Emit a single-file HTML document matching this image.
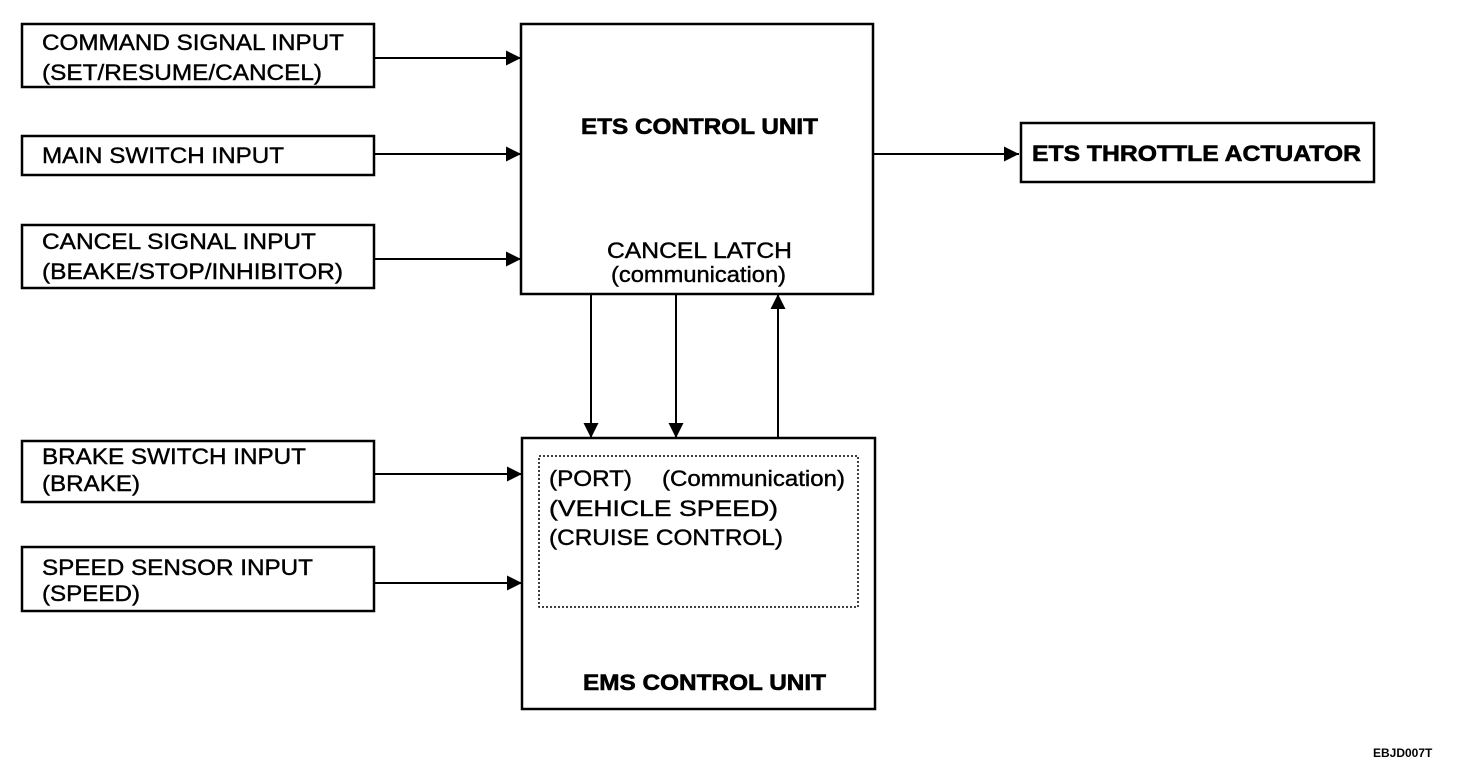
<!DOCTYPE html>
<html><head><meta charset="utf-8"><style>
html,body{margin:0;padding:0;background:#fff;}
svg{display:block;}
text{font-family:"Liberation Sans",Arial,sans-serif;font-size:22px;fill:#000;stroke:#000;stroke-width:0.4;}
.b{font-weight:bold;stroke-width:0.6;}
</style></head><body>
<svg width="1472" height="772" viewBox="0 0 1472 772" xmlns="http://www.w3.org/2000/svg">
<defs><marker id="a" viewBox="0 0 10 10" refX="10" refY="5" markerWidth="18" markerHeight="15" markerUnits="userSpaceOnUse" orient="auto"><path d="M0,0 L10,5 L0,10 Z" fill="#000"/></marker></defs>
<g fill="none" stroke="#000" stroke-width="2.5">
<rect x="22" y="24" width="352" height="63"/>
<rect x="22" y="136" width="352" height="39"/>
<rect x="22" y="225" width="352" height="63"/>
<rect x="22" y="441" width="352" height="61"/>
<rect x="22" y="547" width="352" height="64"/>
<rect x="521" y="24" width="352" height="270"/>
<rect x="1021" y="123" width="353" height="59"/>
<rect x="522" y="438" width="353" height="271"/>
</g>
<rect x="539" y="456" width="319" height="151" fill="none" stroke="#000" stroke-width="1.5" stroke-dasharray="2,2"/>
<g stroke="#000" stroke-width="2" marker-end="url(#a)">
<line x1="374" y1="58" x2="521" y2="58"/>
<line x1="374" y1="154" x2="521" y2="154"/>
<line x1="374" y1="259" x2="521" y2="259"/>
<line x1="374" y1="474" x2="522" y2="474"/>
<line x1="374" y1="583" x2="522" y2="583"/>
<line x1="873" y1="154" x2="1019" y2="154"/>
<line x1="591" y1="294" x2="591" y2="438"/>
<line x1="676" y1="294" x2="676" y2="438"/>
<line x1="778" y1="438" x2="778" y2="294"/>
</g>
<g lengthAdjust="spacingAndGlyphs">
<text x="42" y="50" textLength="302" lengthAdjust="spacingAndGlyphs">COMMAND SIGNAL INPUT</text>
<text x="42" y="80" textLength="280" lengthAdjust="spacingAndGlyphs">(SET/RESUME/CANCEL)</text>
<text x="42" y="163" textLength="242" lengthAdjust="spacingAndGlyphs">MAIN SWITCH INPUT</text>
<text x="42" y="249" textLength="274" lengthAdjust="spacingAndGlyphs">CANCEL SIGNAL INPUT</text>
<text x="42" y="279" textLength="301" lengthAdjust="spacingAndGlyphs">(BEAKE/STOP/INHIBITOR)</text>
<text x="42" y="464" textLength="264" lengthAdjust="spacingAndGlyphs">BRAKE SWITCH INPUT</text>
<text x="42" y="491" textLength="98" lengthAdjust="spacingAndGlyphs">(BRAKE)</text>
<text x="42" y="575" textLength="271" lengthAdjust="spacingAndGlyphs">SPEED SENSOR INPUT</text>
<text x="42" y="601" textLength="98" lengthAdjust="spacingAndGlyphs">(SPEED)</text>
<text class="b" x="581" y="134" textLength="237" lengthAdjust="spacingAndGlyphs">ETS CONTROL UNIT</text>
<text x="607" y="258" textLength="185" lengthAdjust="spacingAndGlyphs">CANCEL LATCH</text>
<text x="611" y="282" textLength="175" lengthAdjust="spacingAndGlyphs">(communication)</text>
<text class="b" x="1032" y="161" textLength="329" lengthAdjust="spacingAndGlyphs">ETS THROTTLE ACTUATOR</text>
<text x="549" y="486" textLength="83" lengthAdjust="spacingAndGlyphs">(PORT)</text>
<text x="662" y="486" textLength="183" lengthAdjust="spacingAndGlyphs">(Communication)</text>
<text x="549" y="516" textLength="229" lengthAdjust="spacingAndGlyphs">(VEHICLE SPEED)</text>
<text x="549" y="545" textLength="234" lengthAdjust="spacingAndGlyphs">(CRUISE CONTROL)</text>
<text class="b" x="583" y="690" textLength="243" lengthAdjust="spacingAndGlyphs">EMS CONTROL UNIT</text>
</g>
<text class="b" x="1373" y="757" style="font-size:12px;stroke-width:0">EBJD007T</text>
</svg>
</body></html>
